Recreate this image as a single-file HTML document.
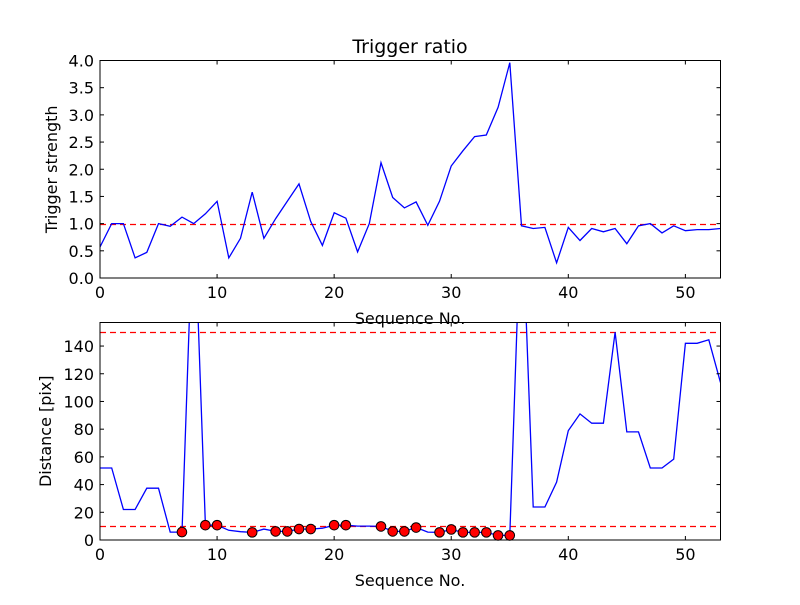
<!DOCTYPE html>
<html><head><meta charset="utf-8"><style>
body{margin:0;background:#fff}
svg text{font-family:"DejaVu Sans","Liberation Sans",sans-serif;fill:#000}
</style></head><body>
<svg id="c" width="800" height="600" xmlns="http://www.w3.org/2000/svg">
<rect width="800" height="600" fill="#fff"/>
</svg>
<script>
const seq = [];
for (let i = 0; i <= 53; i++) seq.push(i);
const ratioValues = [0.57,1.0,1.0,0.37,0.47,1.0,0.95,1.12,1.0,1.18,1.41,0.37,0.73,1.58,0.73,1.09,1.41,1.73,1.04,0.6,1.2,1.1,0.48,1.0,2.12,1.48,1.29,1.4,0.97,1.41,2.06,2.34,2.6,2.63,3.14,3.96,0.96,0.91,0.93,0.28,0.93,0.69,0.91,0.85,0.91,0.63,0.96,1.0,0.83,0.96,0.87,0.89,0.89,0.91];
const distValues = [52,52,22,22,37.4,37.4,5.7,5.7,250,10.7,10.7,7,6,5.5,7.9,6.2,6.2,7.9,7.9,8.5,10.7,10.7,10,10,9.8,6.2,6.2,9,5.7,5.5,7.6,5.5,5.5,5.5,3.3,3.3,250,23.8,23.8,41.7,79,91,84.3,84.3,150,78,78,52,52,58.3,142,142,144.5,113.6];
const markerIdx = [7,9,10,13,15,16,17,18,20,21,24,25,26,27,29,30,31,32,33,34,35];
const xTicks = [0,10,20,30,40,50];
const ratioTicks = ["0.0","0.5","1.0","1.5","2.0","2.5","3.0","3.5","4.0"];
const distTicks = [0,20,40,60,80,100,120,140];
const ratioThreshold = [1.0];
const distThresholds = [10,150];

const NS="http://www.w3.org/2000/svg";
const svg=document.getElementById('c');
function mk(tag,attrs,parent){const e=document.createElementNS(NS,tag);for(const k in attrs)e.setAttribute(k,attrs[k]);(parent||svg).appendChild(e);return e;}
const L=100,R=720.5,XMAX=53;
const sx=v=>L+(R-L)*v/XMAX;

function panel(name,top,bot,ymax,values,yticks,thresholds,ylabel,ylabelX){
  const g=mk('g',{});
  
  
  const sy=v=>bot-(bot-top)*v/ymax;
  const cp='clip-'+name;
  const cl=mk('clipPath',{id:cp},g);mk('rect',{x:L,y:top,width:R-L,height:bot-top},cl);
  thresholds.forEach(t=>{
    const yy=Math.round(sy(t))+0.5;
    const l=mk('line',{x1:L,x2:R,y1:yy,y2:yy,stroke:'#f00','stroke-width':1.2,'stroke-dasharray':'6,4'},g);
    
    
  });
  const pts=values.map((v,i)=>sx(seq[i]).toFixed(1)+','+sy(v).toFixed(1)).join(' ');
  const pl=mk('polyline',{points:pts,fill:'none',stroke:'#00f','stroke-width':1.3,'clip-path':'url(#'+cp+')'},g);
  
  
  mk('rect',{x:L,y:top,width:R-L,height:bot-top,fill:'none',stroke:'#000','stroke-width':1},g);
  xTicks.forEach(t=>{
    const x=sx(t);
    mk('line',{x1:x,x2:x,y1:bot,y2:bot-4,stroke:'#000'},g);
    mk('line',{x1:x,x2:x,y1:top,y2:top+4,stroke:'#000'},g);
    const tx=mk('text',{x:x,y:bot+20,'text-anchor':'middle','font-size':16},g);tx.textContent=t;
    
    
  });
  yticks.forEach(t=>{
    const y=sy(parseFloat(t));
    mk('line',{x1:L,x2:L+4,y1:y,y2:y,stroke:'#000'},g);
    mk('line',{x1:R,x2:R-4,y1:y,y2:y,stroke:'#000'},g);
    const tx=mk('text',{x:L-6,y:y+6,'text-anchor':'end','font-size':16},g);tx.textContent=t;
    
    
  });
  const yl=mk('text',{x:ylabelX,y:(top+bot)/2,'text-anchor':'middle','font-size':16,transform:'rotate(-90 '+ylabelX+' '+(top+bot)/2+')'},g);
  yl.textContent=ylabel;
  
  
  const xl=mk('text',{x:410,y:bot+46,'text-anchor':'middle','font-size':16},g);
  xl.textContent='Sequence No.';
  
  
  return sy;
}
const ttl=mk('text',{x:410,y:53,'text-anchor':'middle','font-size':19});
ttl.textContent='Trigger ratio';


panel('ratio-panel',60.5,278,4,ratioValues,ratioTicks,ratioThreshold,'Trigger strength',57);
const sy2=panel('distance-panel',322.5,540,157,distValues,distTicks,distThresholds,'Distance [pix]',51);
markerIdx.forEach(i=>{
  const c=mk('circle',{cx:sx(seq[i]),cy:sy2(distValues[i]),r:4.8,fill:'#f00',stroke:'#000','stroke-width':1});
  
  
});
</script>
</body></html>
